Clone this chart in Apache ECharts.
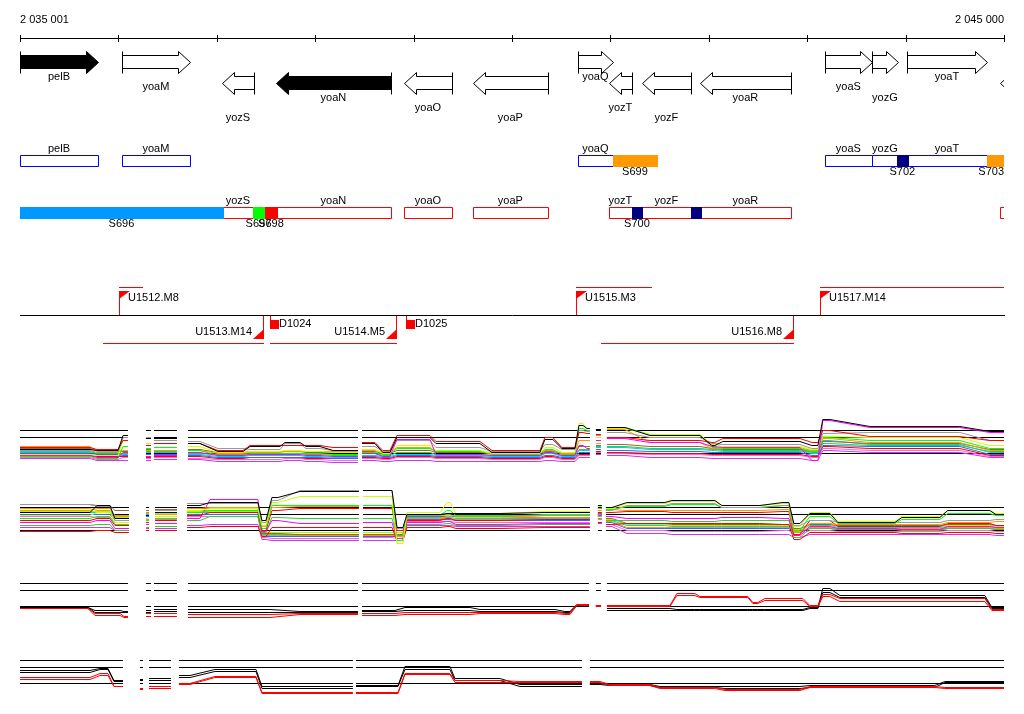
<!DOCTYPE html>
<html>
<head>
<meta charset="utf-8">
<script src="https://cdn.jsdelivr.net/npm/echarts/dist/echarts.min.js"></script>
<style>
html,body{margin:0;padding:0;background:#ffffff;}
#c{width:1024px;height:714px;}
</style>
</head>
<body>
<div id="c"></div>
<script>
// ---------------- DATA ----------------
// Window: positions are offsets (bp) from WINDOW_START
const WINDOW_START = 2035000;
const VIEW_MIN = 1;
const VIEW_MAX = 10000;
const TICKS = [1, 1000, 2000, 3000, 4000, 5000, 6000, 7000, 8000, 9000, 10000];

// Genes
const GENE_NAMES  = ['pelB','yoaM','yozS','yoaN','yoaO','yoaP','yoaQ','yozT','yozF','yoaR','yoaS','yozG','yoaT',''];
const GENE_START  = [1, 1037, 2053, 2602, 3902, 4603, 5670, 5985, 6321, 6910, 8180, 8657, 9013, 9958];
const GENE_END    = [793, 1728, 2378, 3770, 4390, 5365, 6026, 6219, 6818, 7834, 8657, 8922, 9826, 10400];
const GENE_STRAND = ['+','+','-','-','-','-','+','-','-','-','+','+','+','-'];
const GENE_FILLED = [1,0,0,1,0,0,0,0,0,0,0,0,0,0];

// Segments (coloured blocks on the transcript tracks)
const SEG_NAMES  = ['S696','S697','S698','S699','S700','','S702','S703'];
const SEG_START  = [1, 2368, 2490, 6026, 6219, 6818, 8911, 9826];
const SEG_END    = [2063, 2480, 2612, 6473, 6321, 6920, 9023, 10200];
const SEG_STRAND = ['-','-','-','+','-','-','+','+'];

// Transcription units and terminators
const TU_NAMES  = ['U1512.M8','U1513.M14','U1514.M5','U1515.M3','U1516.M8','U1517.M14'];
const TU_START  = [1007, 2470, 3821, 5650, 7855, 8129];
const TU_END    = [1241, 844, 2541, 6412, 5904, 10400];
const TU_STRAND = ['+','-','-','+','-','+'];
const TERM_NAMES  = ['D1024','D1025'];
const TERM_POS    = [2541, 3923];

// Reference levels of the expression panels
const REF_LEVELS = [40, 33, 17];

// Panel 1 regions (bp offsets) and breaks (index of region followed by missing data)
const P1_REGIONS = [[1,712],[783,997],[1048,1098],[1281,1332],[1362,1596],[1708,1830],[2013,2267],[2338,2643],[2693,2846],[2907,3049],[3181,3435],[3476,3608],[3689,3760],[3831,4167],[4228,4675],[4797,5284],[5335,5416],[5508,5640],[5681,5722],[5762,5792],[5853,5904],[5965,6148],[6402,6910],[7032,7062],[7143,7926],[8048,8109],[8159,8231],[8637,9551],[9856,10000]];
const P1_BREAKS = [2,3,4,10,19,20];
const P1_VIOLET  = [12,10,10,10,11,11,9,9,10,9,8,10,9,10,9,9,10,9,13,13,16,15,13,12,12,10,20,18,13];
const P1_PINK    = [13,11,13,12,13,12,11,11,12,11,10,12,11,13,12,11,13,11,15,15,18,17,16,15,15,13,22,20,14];
const P1_RED2    = [15,14,14,13,14,14,12,13,13,12,12,13,12,14,13,12,14,12,16,16,19,18,17,16,16,14,24,22,15];
const P1_BLUE    = [17,16,15,16,16,15,13,13,13,13,12,14,13,15,14,13,15,13,18,18,21,20,19,18,18,15,25,24,16];
const P1_CYAN    = [19,17,16,18,18,16,14,15,15,14,13,15,14,16,15,14,17,14,20,20,23,23,21,20,19,17,30,26,18];
const P1_GREEN2  = [18,17,17,19,19,17,16,17,17,16,15,17,15,18,16,15,18,15,21,21,24,24,22,21,20,18,27,25,19];
const P1_BROWN   = [22,20,19,21,20,21,18,19,19,18,18,19,17,20,18,17,19,17,24,24,25,26,24,22,21,19,29,27,21];
const P1_ORANGE  = [24,19,20,20,20,20,17,18,19,19,19,20,18,23,19,18,20,17,30,30,27,41,28,22,23,20,32,28,20];
const P1_GREEN   = [14,12,24,22,23,20,15,16,17,17,16,18,16,22,19,16,21,16,42,40,30,43,36,23,22,19,33,30,22];
const P1_YELLOW  = [16,15,30,27,27,24,18,19,20,19,18,21,17,25,20,17,23,18,47,42,33,42,36,26,24,21,34,33,25];
const P1_GRAY    = [20,18,33,33,30,29,22,21,27,22,20,24,19,30,23,19,26,21,40,39,35,38,33,27,26,22,37,38,30];
const P1_MAGENTA = [15,13,18,14,15,18,15,16,16,15,14,17,14,31,16,15,18,15,25,22,30,32,28,24,23,10,50,43,38];
const P1_RED     = [23,21,30,25,27,27,20,25,25,25,23,28,20,35,29,20,33,23,38,37,36,33,30,28,32,28,40,34,30];
const P1_BLACK   = [21,20,35,32,32,27,19,24,28,24,20,27,18,33,27,18,31,22,45,42,41,43,35,25,29,25,51,44,39];

// Panel 2
const P2_REGIONS = [[1,712],[783,915],[966,1108],[1281,1312],[1373,1596],[1698,1830],[1931,2419],[2460,2500],[2561,2622],[2846,3445],[3486,3781],[3832,3892],[3933,4268],[4339,4370],[4431,4878],[5335,5792],[5873,5914],[5955,6016],[6168,6554],[6625,7062],[7133,7519],[7753,7814],[7865,7926],[8027,8231],[8312,8891],[8962,9348],[9429,9856],[9917,10000]];
const P2_BREAKS = [2,3,4,9,15,16];
const P2_VIOLET  = [20,20,17,19,19,22,23,8,7,7,7,7,22,22,21,21,24,21,14,13,13,13,10,13,13,13,13,12];
const P2_PINK    = [31,30,25,28,28,31,31,10,9,9,10,9,26,26,25,25,28,23,17,16,16,17,13,17,16,16,17,16];
const P2_BLUE    = [33,33,27,31,31,33,33,11,11,11,11,11,28,28,27,27,31,25,19,19,19,19,15,19,18,18,19,18];
const P2_ORANGE2 = [39,37,31,35,35,37,37,12,12,12,12,12,29,29,28,28,31,26,20,20,20,20,16,20,19,19,20,19];
const P2_CYAN    = [35,35,29,33,33,35,35,13,13,13,13,13,30,30,29,29,33,27,22,21,21,21,17,22,20,20,21,20];
const P2_LIME    = [36,36,30,34,34,36,36,15,15,15,15,15,31,32,30,30,34,28,23,22,22,22,18,23,21,21,22,21];
const P2_BROWN   = [43,42,37,37,38,39,39,14,14,13,13,13,31,31,31,30,34,29,24,23,23,23,19,23,22,22,23,22];
const P2_RED2    = [16,17,15,17,17,20,21,11,20,20,20,7,20,21,19,20,25,23,24,24,24,23,8,15,15,14,15,14];
const P2_GREEN2  = [22,23,17,20,21,27,31,15,30,29,29,12,23,24,22,23,29,27,27,26,27,27,10,19,18,17,19,18];
const P2_MAGENTA = [25,27,19,23,24,29,48,16,27,24,25,9,25,26,23,24,32,31,29,29,30,29,12,21,19,18,21,20];
const P2_RED     = [27,29,22,25,27,32,35,17,37,39,39,17,27,29,27,28,35,35,36,35,35,36,13,27,21,21,24,22];
const P2_ORANGE  = [37,39,32,34,33,39,40,21,40,41,42,11,29,31,32,30,37,38,37,37,37,38,15,24,23,23,25,26];
const P2_GREEN   = [29,31,23,27,29,35,37,19,42,42,42,7,32,37,32,32,39,38,41,43,40,42,17,31,24,28,34,32];
const P2_YELLOW  = [32,35,25,29,31,37,39,22,45,51,51,4,35,45,34,36,41,39,44,46,42,44,21,35,26,31,37,34];
const P2_GRAY    = [43,41,27,35,37,44,44,25,47,57,57,19,32,33,31,33,39,37,42,44,40,42,22,27,25,25,27,28];
const P2_BLACK   = [35,42,29,32,35,42,45,27,50,56,57,20,33,34,34,35,42,40,45,47,42,45,24,34,25,30,37,33];

// Panel 3
const P3_REGIONS = [[1,692],[763,1017],[1058,1098],[1281,1332],[1362,1596],[1708,2541],[2846,3435],[3476,3811],[3913,4573],[4675,5437],[5538,5589],[5660,5782],[5853,5904],[5965,6605],[6676,6859],[6910,7397],[7448,7499],[7570,7956],[8027,8109],[8159,8231],[8332,9805],[9877,10000]];
const P3_BREAKS = [2,3,4,6,11,12];
const P3_BLACK2 = [16,11,11,11,12,11,11,12,13,12,11,18,18,13,13,13,13,13,15,31,26,15];
const P3_BLACK1 = [16,13,12,13,14,14,12,13,16,14,12,19,18,15,14,14,14,14,16,35,28,16];
const P3_RED2   = [15,8,6,7,7,6,9,8,9,10,9,18,17,17,28,26,20,23,17,27,22,13];
const P3_RED1   = [15,10,7,10,10,9,10,10,11,11,10,19,18,18,30,27,21,25,18,29,25,14];

// Panel 4
const P4_REGIONS = [[1,712],[814,895],[956,1047],[1220,1251],[1312,1535],[1616,1728],[1982,2399],[2460,3384],[3415,3842],[3913,4370],[4421,4878],[5081,5711],[5792,5894],[5995,6402],[6503,7062],[7164,7926],[8027,9297],[9399,10000]];
const P4_BREAKS = [2,3,4,7,11];
const P4_BLACK2 = [28,31,19,20,20,23,29,12,14,31,20,14,16,15,13,12,13,18];
const P4_BLACK1 = [30,32,20,21,22,25,31,14,15,34,22,16,17,16,14,14,15,19];
const P4_RED2   = [21,25,14,11,12,16,23,7,7,26,18,18,18,15,12,10,13,12];
const P4_RED1   = [23,27,14,12,14,17,24,8,8,27,20,19,19,16,13,11,14,13];

// ---------------- LAYOUT / STYLE ----------------
const PLOT_LEFT = 20, PLOT_RIGHT = 20;
const FONT = '11px "Liberation Sans", Arial, sans-serif';
const AXIS_Y = 38, TICK_UP = 3, TICK_DOWN = 3, AXIS_LABEL_Y = 20;
const ARROW_ROW = {
  '+': {bt:55, bb:68, ht:51, hb:73, mid:62},
  '-': {bt:76, bb:89, ht:72, hb:94, mid:83}
};
const HEAD_LEN = 12;
const GENE_LABEL_ROW = [0,1,4,2,3,4,0,3,4,2,1,2,0,0];
const GENE_LABEL_Y0 = 77, GENE_LABEL_DY = 10.25;
const BOX_ROW = {'+': {top:155, color:'#0000ff'}, '-': {top:207, color:'#ff0000'}};
const BOX_H = 11;
const SEG_COLORS = ['#0099ff','#00ff00','#ff0000','#ff9900','#000080','#000080','#000080','#ff9900'];
const TU_BASE = 315;
const PANEL_TOPS = [430, 507, 583, 660];
const RED = '#ff0000';

function fmtPos(n){ return String(n).replace(/\B(?=(\d{3})+(?!\d))/g, ' '); }
function txt(x, y, text, align, color){
  return {type:'text', style:{text:text, x:x, y:y, font:FONT, fill:color||'#000',
    align:align, verticalAlign:'middle', textAlign:align, textVerticalAlign:'middle'}};
}
function ln(x1,y1,x2,y2,color){ return {type:'line', shape:{x1:x1,y1:y1,x2:x2,y2:y2}, style:{stroke:color||'#000', lineWidth:1}}; }
function X(api, v){ return api.coord([v, 0])[0]; }

// ---------------- RENDERERS ----------------
function renderAxis(params, api){
  const a = Math.round(X(api, VIEW_MIN)), b = Math.round(X(api, VIEW_MAX));
  return {type:'group', children:[
    ln(a, AXIS_Y+0.5, b+1, AXIS_Y+0.5),
    txt(a, AXIS_LABEL_Y, fmtPos(WINDOW_START + VIEW_MIN), 'left'),
    txt(b, AXIS_LABEL_Y, fmtPos(WINDOW_START + VIEW_MAX), 'right'),
    ln(a, TU_BASE+0.5, b+1, TU_BASE+0.5)
  ]};
}
function renderTick(params, api){
  const x = Math.round(X(api, TICKS[params.dataIndex])) + 0.5;
  return ln(x, AXIS_Y - TICK_UP, x, AXIS_Y + TICK_DOWN + 1);
}
function renderGene(params, api){
  const i = params.dataIndex;
  const xa = X(api, GENE_START[i]), xb = X(api, GENE_END[i]);
  const a = Math.round(xa), b = Math.round(xb);
  const r = ARROW_ROW[GENE_STRAND[i]];
  const hl = Math.min(HEAD_LEN, b - a);
  let pts, tail;
  if (GENE_STRAND[i] === '+') {
    const h = b - hl;
    pts = [[a,r.bt],[h,r.bt],[h,r.ht],[b,r.mid],[h,r.hb],[h,r.bb],[a,r.bb]]; tail = a;
  } else {
    const h = a + hl;
    pts = [[b,r.bt],[h,r.bt],[h,r.ht],[a,r.mid],[h,r.hb],[h,r.bb],[b,r.bb]]; tail = b;
  }
  pts = pts.map(function(p){ return [p[0]+0.5, p[1]+0.5]; });
  const filled = GENE_FILLED[i] === 1;
  const ch = [
    {type:'polygon', shape:{points:pts}, style:{fill: filled ? '#000' : '#fff', stroke:'#000', lineWidth:1}},
    ln(tail+0.5, r.ht+0.5, tail+0.5, r.hb+0.5)
  ];
  if (GENE_NAMES[i]) ch.push(txt((xa+xb)/2, GENE_LABEL_Y0 + GENE_LABEL_ROW[i]*GENE_LABEL_DY, GENE_NAMES[i], 'center'));
  return {type:'group', children:ch};
}
function renderBox(params, api){
  const i = params.dataIndex;
  const xa = X(api, GENE_START[i]), xb = X(api, GENE_END[i]);
  const a = Math.round(xa), b = Math.round(xb);
  const r = BOX_ROW[GENE_STRAND[i]];
  const ch = [{type:'rect', shape:{x:a+0.5, y:r.top+0.5, width:b-a, height:BOX_H}, style:{fill:'#fff', stroke:r.color, lineWidth:1}}];
  if (GENE_NAMES[i]) ch.push(txt((xa+xb)/2, r.top-6, GENE_NAMES[i], 'center'));
  return {type:'group', children:ch};
}
function renderSeg(params, api){
  const i = params.dataIndex;
  const xa = X(api, SEG_START[i]), xb = X(api, SEG_END[i]);
  const a = Math.round(xa), b = Math.round(xb);
  const r = BOX_ROW[SEG_STRAND[i]];
  const right = X(api, VIEW_MAX);
  const ch = [{type:'rect', shape:{x:a, y:r.top, width:b-a+1, height:BOX_H+1}, style:{fill:SEG_COLORS[i]}}];
  if (SEG_NAMES[i]) {
    if (xb > right) ch.push(txt(right, r.top+17, SEG_NAMES[i], 'right'));
    else ch.push(txt((xa+xb)/2, r.top+17, SEG_NAMES[i], 'center'));
  }
  return {type:'group', children:ch};
}
function renderTU(params, api){
  const i = params.dataIndex;
  const s = Math.round(X(api, TU_START[i])), e = Math.round(X(api, TU_END[i]));
  const ch = [];
  if (TU_STRAND[i] === '+') {
    ch.push(ln(s+0.5, TU_BASE, s+0.5, 291));
    ch.push({type:'polygon', shape:{points:[[s,291],[s+11,291],[s,299]]}, style:{fill:RED}});
    ch.push(ln(s, 287.5, e+1, 287.5, RED));
    ch.push(txt(s+9, 298, TU_NAMES[i], 'left'));
  } else {
    ch.push(ln(s+0.5, TU_BASE+1, s+0.5, 339));
    ch.push({type:'polygon', shape:{points:[[s+1,339],[s-10,339],[s+1,329]]}, style:{fill:RED}});
    ch.push(ln(e, 343.5, s+1, 343.5, RED));
    ch.push(txt(s-11, 332, TU_NAMES[i], 'right'));
  }
  ch.forEach(function(c){ if (c.type === 'line') c.style.stroke = RED; });
  return {type:'group', children:ch};
}
function renderTerm(params, api){
  const i = params.dataIndex;
  const x = Math.round(X(api, TERM_POS[i]));
  return {type:'group', children:[
    ln(x+0.5, TU_BASE+1, x+0.5, 320, RED),
    {type:'rect', shape:{x:x, y:320, width:9, height:9}, style:{fill:RED}},
    txt(x+9, 324, TERM_NAMES[i], 'left')
  ]};
}

// ---------------- PROFILE BUILDERS ----------------
function profileData(regions, breaks, vals){
  const d = [];
  regions.forEach(function(r, i){
    d.push([r[0], vals[i]], [r[1], vals[i]]);
    if (breaks.indexOf(i) >= 0) d.push([r[1], '-']);
  });
  return d;
}
function refData(regions, breaks, levels){
  const chains = []; let cs = regions[0][0];
  regions.forEach(function(r, i){
    if (breaks.indexOf(i) >= 0 || i === regions.length - 1) {
      chains.push([cs, r[1]]);
      if (i < regions.length - 1) cs = regions[i+1][0];
    }
  });
  const d = [];
  levels.forEach(function(v){ chains.forEach(function(c){ d.push([c[0], v], [c[1], v], [c[1], '-']); }); });
  return d;
}

const PANELS = [
  {regions:P1_REGIONS, breaks:P1_BREAKS, lines:[
    [P1_VIOLET,'#cc33ff'],[P1_PINK,'#ff66cc'],[P1_RED2,'#ff0000'],[P1_BLUE,'#3366ff'],[P1_CYAN,'#00ccff'],
    [P1_GREEN2,'#33cc33'],[P1_BROWN,'#996633'],[P1_ORANGE,'#ff9900'],[P1_GREEN,'#00ff00'],[P1_YELLOW,'#ccff00'],
    [P1_GRAY,'#999999'],[P1_MAGENTA,'#ff00ff'],[P1_RED,'#ff0000'],[P1_BLACK,'#000000']]},
  {regions:P2_REGIONS, breaks:P2_BREAKS, lines:[
    [P2_VIOLET,'#cc33ff'],[P2_PINK,'#ff66cc'],[P2_BLUE,'#3366ff'],[P2_ORANGE2,'#ff9900'],[P2_CYAN,'#00ccff'],
    [P2_LIME,'#99ff00'],[P2_BROWN,'#996633'],[P2_RED2,'#ff0000'],[P2_GREEN2,'#33cc33'],[P2_MAGENTA,'#ff00ff'],
    [P2_RED,'#ff0000'],[P2_ORANGE,'#ff9900'],[P2_GREEN,'#00ff00'],[P2_YELLOW,'#ccff00'],[P2_GRAY,'#999999'],[P2_BLACK,'#000000']]},
  {regions:P3_REGIONS, breaks:P3_BREAKS, lines:[
    [P3_BLACK2,'#000000'],[P3_BLACK1,'#000000'],[P3_RED2,'#ff0000'],[P3_RED1,'#ff0000']]},
  {regions:P4_REGIONS, breaks:P4_BREAKS, lines:[
    [P4_BLACK2,'#000000'],[P4_BLACK1,'#000000'],[P4_RED2,'#ff0000'],[P4_RED1,'#ff0000']]}
];

// ---------------- OPTION ----------------
const grids = [{left:PLOT_LEFT, right:PLOT_RIGHT, top:0, bottom:0}];
const xAxes = [{type:'value', min:VIEW_MIN, max:VIEW_MAX, show:false, gridIndex:0}];
const yAxes = [{type:'value', min:0, max:714, inverse:true, show:false, gridIndex:0}];
PANEL_TOPS.forEach(function(t, k){
  grids.push({left:PLOT_LEFT, right:PLOT_RIGHT, top:t - 19.5, height:60});
  xAxes.push({type:'value', min:VIEW_MIN, max:VIEW_MAX, show:false, gridIndex:k+1});
  yAxes.push({type:'value', min:0, max:60, show:false, gridIndex:k+1});
});

function custom(data, fn, clip){
  return {type:'custom', coordinateSystem:'cartesian2d', xAxisIndex:0, yAxisIndex:0,
    data:data, encode:{x:[0,1], y:2}, renderItem:fn, clip:!!clip, silent:true, animation:false};
}
const series = [
  custom([[VIEW_MIN, VIEW_MAX, 0]], renderAxis, false),
  custom(TICKS.map(function(t){ return [t, t, 0]; }), renderTick, false),
  custom(GENE_START.map(function(s, i){ return [s, GENE_END[i], 0]; }), renderGene, true),
  custom(GENE_START.map(function(s, i){ return [s, GENE_END[i], 0]; }), renderBox, true),
  custom(SEG_START.map(function(s, i){ return [s, SEG_END[i], 0]; }), renderSeg, true),
  custom(TU_START.map(function(s, i){ return [Math.min(s, TU_END[i]), Math.max(s, TU_END[i]), 0]; }), renderTU, true),
  custom(TERM_POS.map(function(p){ return [p, p, 0]; }), renderTerm, true)
];
PANELS.forEach(function(p, k){
  series.push({type:'line', xAxisIndex:k+1, yAxisIndex:k+1, data:refData(p.regions, p.breaks, REF_LEVELS),
    symbol:'none', showSymbol:false, silent:true, animation:false, lineStyle:{color:'#000', width:1}});
  p.lines.forEach(function(l){
    series.push({type:'line', xAxisIndex:k+1, yAxisIndex:k+1, data:profileData(p.regions, p.breaks, l[0]),
      symbol:'none', showSymbol:false, silent:true, animation:false, lineStyle:{color:l[1], width:1}});
  });
});

const chart = echarts.init(document.getElementById('c'), null, {renderer:'canvas'});
chart.setOption({
  animation:false,
  backgroundColor:'#ffffff',
  grid:grids, xAxis:xAxes, yAxis:yAxes,
  series:series
});
</script>
</body>
</html>
